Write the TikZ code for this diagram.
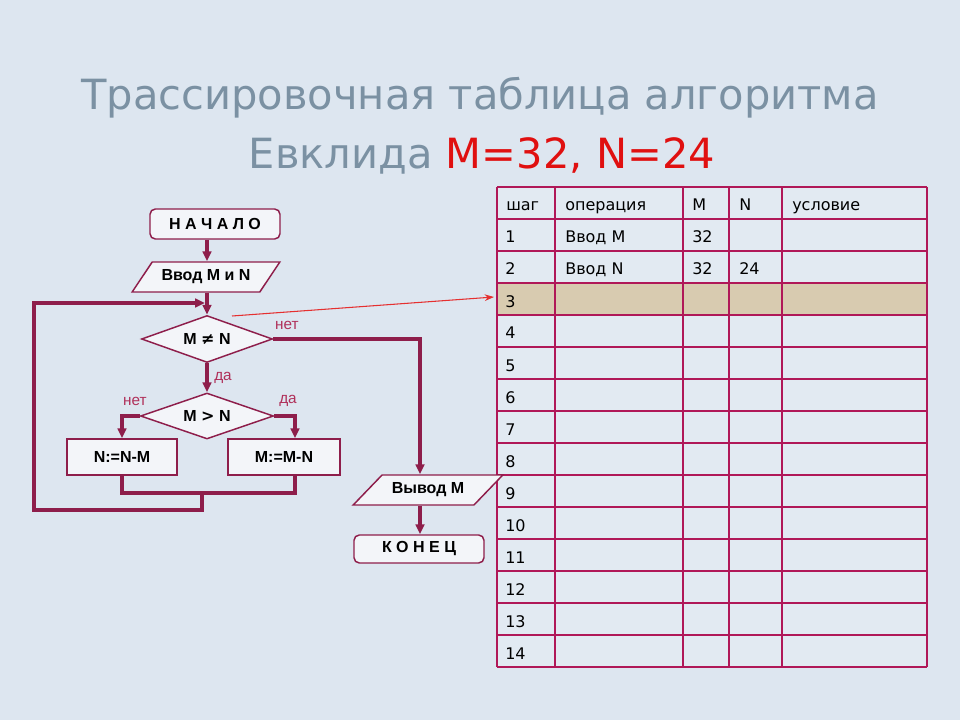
\documentclass[tikz,border=0pt]{standalone}
\usepackage{fontspec}
\setmainfont{DejaVu Sans}
\newfontfamily\arialf{Liberation Sans}
\newfontfamily\djv{DejaVu Sans}
\usetikzlibrary{shapes.geometric,arrows.meta,calc}
\definecolor{bgc}{HTML}{DDE6F0}
\definecolor{fl}{HTML}{8E1E4B}
\definecolor{boxf}{HTML}{F3F5F9}
\definecolor{lblc}{HTML}{B0305A}
\definecolor{tabc}{HTML}{B01858}
\definecolor{cellf}{HTML}{E2EAF2}
\definecolor{hilite}{HTML}{D8CBB0}
\definecolor{titc}{HTML}{7B91A3}
\definecolor{titred}{HTML}{E01010}
\definecolor{ptr}{HTML}{E53030}
\tikzset{
  flow/.style={draw=fl, line width=1.1pt, fill=boxf, text=black,
    font=\arialf\bfseries\fontsize{12}{14}\selectfont, inner sep=0pt},
  flowbox/.style={flow, rectangle, minimum width=#1},
  conn/.style={draw=fl, line width=2.4pt},
  arr/.style={conn, -{Triangle[length=7.5pt,width=6.5pt]}},
  lbl/.style={font=\arialf\fontsize{11.5}{13}\selectfont, text=lblc, inner sep=0pt},
  cell/.style={anchor=base west, font=\fontsize{12}{14}\selectfont, text=black, inner sep=0pt},
  grid/.style={draw=tabc, line width=1.1pt},
  titlestyle/.style={font=\fontsize{31.2}{38}\selectfont, text=titc, inner sep=0pt, anchor=base},
  ptrarr/.style={draw=ptr, line width=0.8pt, -{Stealth[length=7pt,width=5pt]}},
}
\begin{document}
\begin{tikzpicture}[x=0.75pt,y=-0.75pt]
\useasboundingbox (0,0) rectangle (960,720);
\fill[bgc] (0,0) rectangle (960,720);

% title
\node[titlestyle] (t1) at (480,110) {Трассировочная таблица алгоритма};
\node[titlestyle] (t2) at (482,169) {Евклида \textcolor{titred}{M=32, N=24}};

% table
\fill[cellf] (497,187) rectangle (927,667);
\fill[hilite] (497,283) rectangle (927,315);
\foreach \i in {0,...,15} { \draw[grid] (497,187+32*\i) -- (927,187+32*\i); }
\foreach \x in {497,555,683,729,782,927} { \draw[grid] (\x,187) -- (\x,667); }
\node[cell] (hs) at (506,211) {шаг};
\node[cell] (ho) at (565,211) {операция};
\node[cell] (hm) at (692,211) {M};
\node[cell] (hn) at (739,211) {N};
\node[cell] (hu) at (792,211) {условие};
\foreach \i in {1,...,14} { \node[cell] (r\i) at (505,187+32*\i+24) {\i}; }
\node[cell] (o1) at (565,243) {Ввод M};
\node[cell] (m1) at (692,243) {32};
\node[cell] (o2) at (565,275) {Ввод N};
\node[cell] (m2) at (692,275) {32};
\node[cell] (n2) at (739,275) {24};

% flowchart nodes
\node[flow, rectangle, rounded corners=4pt, minimum width=97.5pt, minimum height=22.5pt] (start) at (215,224) {Н А Ч А Л О};
\node[flow, trapezium, trapezium left angle=40.6, trapezium right angle=139.4, trapezium stretches=true,
      minimum width=111pt, minimum height=22.5pt] (in) at (206,277) {Ввод M и N};
\node[flow, diamond, aspect=2.79, minimum width=98.25pt, minimum height=35.25pt] (d1) at (207,339) {M {\djv\bfseries ≠} N};
\node[flow, diamond, aspect=2.9, minimum width=99.75pt, minimum height=34.5pt] (d2) at (207,416) {M {\djv\bfseries >} N};
\node[flowbox=82.5pt, minimum height=27pt] (b1) at (122,457) {N:=N-M};
\node[flowbox=84pt, minimum height=27pt] (b2) at (284,457) {M:=M-N};
\node[flow, trapezium, trapezium left angle=32, trapezium right angle=148, trapezium stretches=true,
      minimum width=112.5pt, minimum height=22.5pt] (out) at (428,490) {Вывод M};
\node[flow, rectangle, rounded corners=4pt, minimum width=97.5pt, minimum height=21pt] (end) at (419,549) {К О Н Е Ц};

% labels
\node[lbl] (l1) at (287,325) {нет};
\node[lbl] (l2) at (223,378) {да};
\node[lbl] (l3) at (135,401) {нет};
\node[lbl] (l4) at (288,401) {да};

% connectors
\coordinate (m) at (202,493);
\coordinate (lp) at (34,510);
\coordinate (jn) at (205,303);
\coordinate (oj) at (out.north -| 420,0);
\draw[arr] (start.south -| 207,0) -- (in.north -| 207,0);
\draw[arr] (in.south -| 207,0) -- (d1.north);
\draw[arr] (d1.south) -- (d2.north);
\draw[arr] (d2.west) -| (b1.north);
\draw[arr] (d2.east) -| (b2.north -| 295,0);
\draw[conn] (b1.south) -- (b1.south |- m) -- (m -| 295,0) -- (b2.south -| 295,0);
\draw[arr] (m) |- (lp) |- (jn);
\draw[arr] (d1.east) -| (oj);
\draw[arr] (out.south -| 420,0) -- (end.north -| 420,0);

% pointer
\coordinate (rs) at (232,316);
\coordinate (rt) at (494,297);
\draw[ptrarr] (rs) -- (rt);
\end{tikzpicture}
\end{document}
